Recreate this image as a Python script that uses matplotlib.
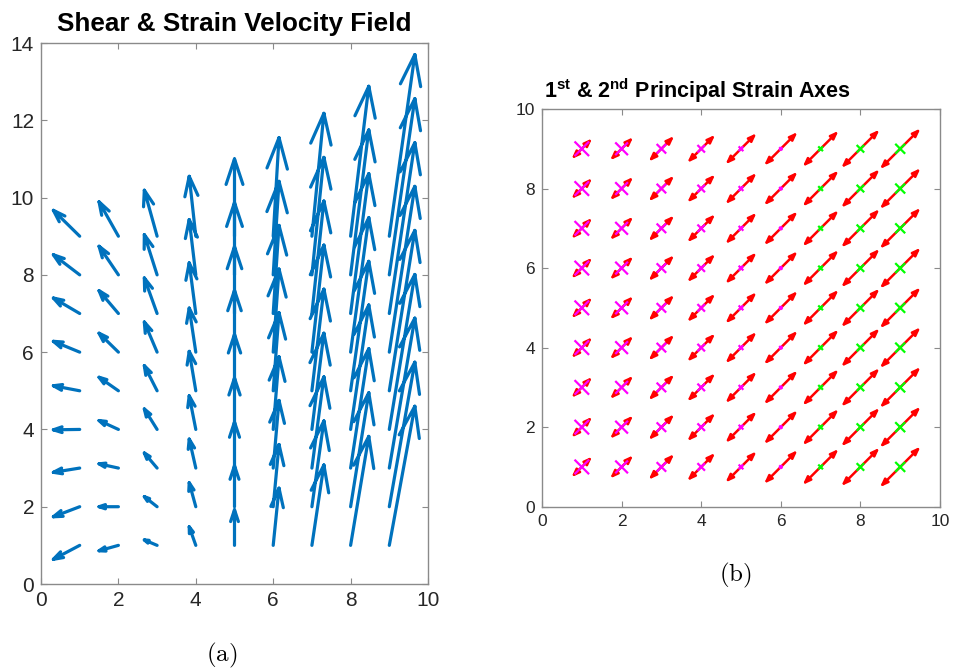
import numpy as np
import matplotlib
matplotlib.use("Agg")
import matplotlib.pyplot as plt

plt.rcParams['font.family'] = ['Liberation Sans', 'DejaVu Sans']
plt.rcParams['mathtext.fontset'] = 'custom'
plt.rcParams['mathtext.rm'] = 'Liberation Sans'
plt.rcParams['mathtext.bf'] = 'Liberation Sans:bold'

# ---------------- data ----------------
grid_x = [1, 2, 3, 4, 5, 6, 7, 8, 9]
grid_y = [1, 2, 3, 4, 5, 6, 7, 8, 9]

# horizontal velocity component per column (constant along each column)
u_col = [-0.68, -0.50, -0.33, -0.17, 0.00, 0.15, 0.31, 0.47, 0.66]

# vertical velocity component, one list per column (rows y = 1..9)
v_x1 = [-0.36, -0.26, -0.11, -0.01, 0.13, 0.28, 0.40, 0.52, 0.67]
v_x2 = [-0.14, 0.00, 0.11, 0.23, 0.35, 0.49, 0.59, 0.74, 0.89]
v_x3 = [0.14, 0.26, 0.39, 0.53, 0.65, 0.78, 0.92, 1.04, 1.19]
v_x4 = [0.48, 0.62, 0.75, 0.87, 1.02, 1.14, 1.31, 1.43, 1.55]
v_x5 = [0.92, 1.06, 1.19, 1.33, 1.46, 1.60, 1.73, 1.87, 2.00]
v_x6 = [1.48, 1.61, 1.75, 1.88, 2.02, 2.15, 2.28, 2.42, 2.55]
v_x7 = [2.08, 2.22, 2.36, 2.49, 2.63, 2.77, 2.91, 3.04, 3.18]
v_x8 = [2.82, 2.95, 3.09, 3.22, 3.35, 3.48, 3.62, 3.75, 3.88]
v_x9 = [3.60, 3.74, 3.88, 4.01, 4.15, 4.29, 4.42, 4.56, 4.70]
v_cols = [v_x1, v_x2, v_x3, v_x4, v_x5, v_x6, v_x7, v_x8, v_x9]

# 1st principal strain axis: half-arrow component along each axis (45 deg), per column
p1_col = [0.26, 0.29, 0.32, 0.35, 0.39, 0.42, 0.45, 0.48, 0.51]
# 2nd principal strain: signed half-extent of the cross, per column
p2_col = [-0.163, -0.14, -0.10, -0.075, -0.04, -0.02, 0.04, 0.075, 0.105]

BLUE = '#0072BD'
AX_GRAY = '#8a8a8a'
TXT = '#262626'

fig = plt.figure(figsize=(9.56, 6.71), dpi=100)

# ---------------- (a) velocity field ----------------
axA = fig.add_axes([41/956, 1 - 584/671, 387/956, 541/671])
xs, ys = [], []
for i, x0 in enumerate(grid_x):
    for j, y0 in enumerate(grid_y):
        u = u_col[i]
        v = v_cols[i][j]
        L = np.hypot(u, v)
        if L == 0:
            continue
        tx, ty = x0 + u, y0 + v
        a = min(0.33, 0.8 / L)
        b = 0.33
        h1 = (tx - a * (u + b * v), ty - a * (v - b * u))
        h2 = (tx - a * (u - b * v), ty - a * (v + b * u))
        xs += [x0, tx, np.nan, h1[0], tx, h2[0], np.nan]
        ys += [y0, ty, np.nan, h1[1], ty, h2[1], np.nan]
axA.plot(xs, ys, color=BLUE, lw=2.3, solid_capstyle='round', solid_joinstyle='round')
axA.set_xlim(0, 10)
axA.set_ylim(0, 14)
axA.set_xticks([0, 2, 4, 6, 8, 10])
axA.set_yticks([0, 2, 4, 6, 8, 10, 12, 14])
axA.set_title('Shear & Strain Velocity Field', fontsize=18.8, fontweight='bold', pad=9)

# ---------------- (b) principal strain axes ----------------
axB = fig.add_axes([542/956, 1 - 506.7/671, 398/956, 397.7/671])
for i, x0 in enumerate(grid_x):
    d = p1_col[i]
    for y0 in grid_y:
        for sgn in (1, -1):
            axB.annotate('', xy=(x0 + sgn * d, y0 + sgn * d), xytext=(x0, y0),
                         arrowprops=dict(arrowstyle='-|>,head_length=0.45,head_width=0.17',
                                         color='red', lw=1.8, shrinkA=0, shrinkB=0))
for i, x0 in enumerate(grid_x):
    e = abs(p2_col[i])
    col = '#ff00ff' if p2_col[i] < 0 else '#00ff00'
    px, py = [], []
    for y0 in grid_y:
        px += [x0 - e, x0 + e, np.nan, x0 - e, x0 + e, np.nan]
        py += [y0 + e, y0 - e, np.nan, y0 - e, y0 + e, np.nan]
    axB.plot(px, py, color=col, lw=1.6, zorder=5)
axB.set_xlim(0, 10)
axB.set_ylim(0, 10)
axB.set_xticks([0, 2, 4, 6, 8, 10])
axB.set_yticks([0, 2, 4, 6, 8, 10])
axB.set_title(r'1$^{\mathbf{st}}$ & 2$^{\mathbf{nd}}$ Principal Strain Axes',
              fontsize=15.5, fontweight='bold', pad=8, x=0.39)

for ax, fs in ((axA, 15), (axB, 12.5)):
    for s in ax.spines.values():
        s.set_color(AX_GRAY)
        s.set_linewidth(1.0)
    ax.tick_params(direction='in', top=True, right=True, length=4, width=0.8,
                   color=AX_GRAY, labelcolor=TXT, labelsize=fs, pad=5)

fig.text(222/956, 1 - 655/671, r'$\mathrm{(a)}$', math_fontfamily='cm', fontsize=18,
         ha='center', va='center')
fig.text(735/956, 1 - 575/671, r'$\mathrm{(b)}$', math_fontfamily='cm', fontsize=18,
         ha='center', va='center')

fig.savefig('out.png', dpi=100)
